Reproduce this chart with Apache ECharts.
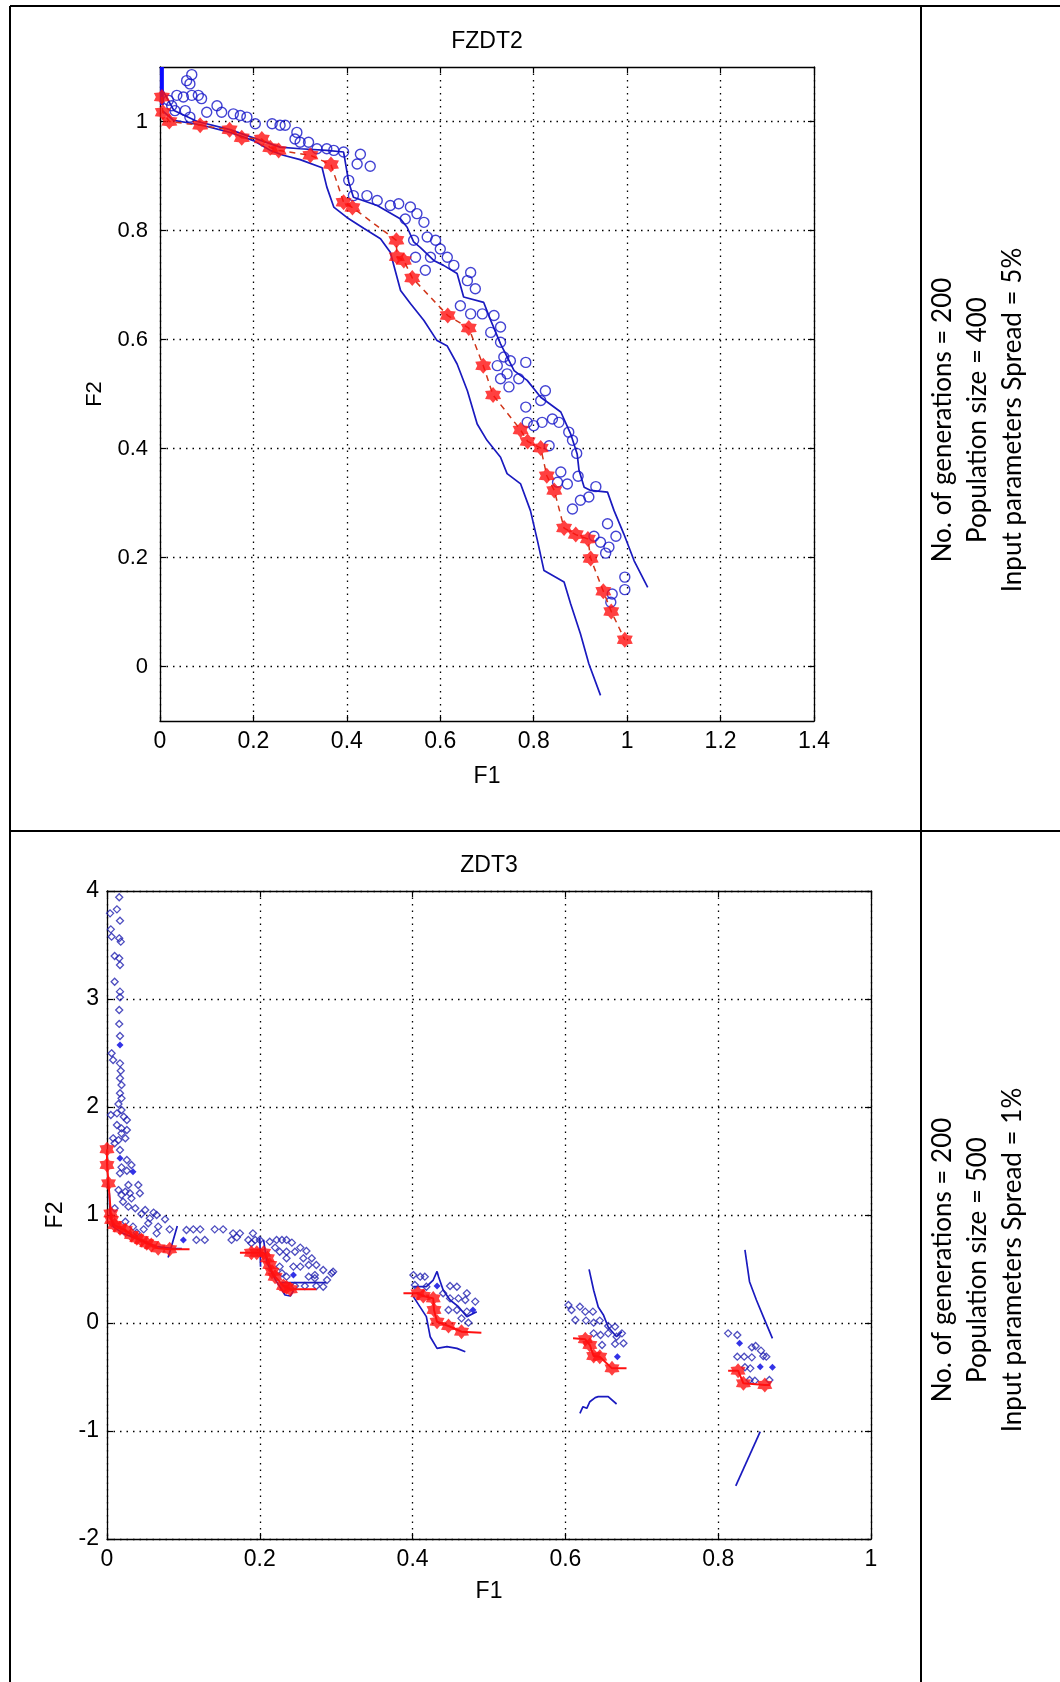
<!DOCTYPE html>
<html><head><meta charset="utf-8">
<script src="https://cdn.jsdelivr.net/npm/echarts@6.0.0/dist/echarts.min.js"></script>
<style>html,body{margin:0;padding:0;background:#fff;}#c{width:1060px;height:1682px;}</style>
</head><body><div id="c"></div>
<script>
// ---------- tick labels ----------
const xTicksTop = [0, 0.2, 0.4, 0.6, 0.8, 1, 1.2, 1.4];
const yTicksTop = [0, 0.2, 0.4, 0.6, 0.8, 1];
const xTicksBot = [0, 0.2, 0.4, 0.6, 0.8, 1];
const yTicksBot = [-2, -1, 0, 1, 2, 3, 4];

// ---------- FZDT2 (top) ----------
const topCircles = [[0.068,1.086],[0.057,1.075],[0.064,1.069],[0.018,1.039],[0.036,1.048],[0.050,1.045],[0.068,1.048],[0.082,1.048],[0.089,1.042],[0.025,1.029],[0.032,1.020],[0.054,1.020],[0.064,1.008],[0.100,1.017],[0.122,1.029],[0.132,1.017],[0.157,1.014],[0.172,1.011],[0.186,1.008],[0.204,0.996],[0.240,0.996],[0.257,0.993],[0.268,0.993],[0.293,0.980],[0.289,0.968],[0.300,0.962],[0.318,0.962],[0.336,0.950],[0.357,0.950],[0.372,0.947],[0.393,0.944],
[0.429,0.940],[0.422,0.922],[0.450,0.918],[0.404,0.892],[0.414,0.864],[0.443,0.864],[0.465,0.855],[0.493,0.846],[0.511,0.849],[0.536,0.843],[0.550,0.831],[0.525,0.821],[0.565,0.815],[0.543,0.782],[0.572,0.788],[0.590,0.782],[0.600,0.766],[0.615,0.751],[0.629,0.736],[0.568,0.727],[0.547,0.751],[0.579,0.751],[0.665,0.723],[0.658,0.708],[0.675,0.693],[0.643,0.662],[0.665,0.647],[0.690,0.647],[0.715,0.644],[0.708,0.613],[0.729,0.623],[0.729,0.595],[0.736,0.568],[0.750,0.561],[0.783,0.558],[0.722,0.552],[0.729,0.528],[0.747,0.513],[0.768,0.528],[0.743,0.537],[0.825,0.506],[0.815,0.488],
[0.783,0.476],[0.786,0.448],[0.800,0.442],[0.818,0.448],[0.840,0.454],[0.854,0.448],[0.875,0.430],[0.883,0.415],[0.892,0.391],[0.833,0.405],[0.858,0.357],[0.851,0.338],[0.872,0.335],[0.895,0.349],[0.918,0.311],[0.933,0.330],[0.900,0.305],[0.883,0.289],[0.958,0.262],[0.976,0.239],[0.929,0.239],[0.943,0.228],[0.961,0.219],[0.954,0.208],[0.995,0.164],[0.995,0.141],[0.968,0.133],[0.965,0.118]];
const topStars = [[0.004,1.045],[0.006,1.017],[0.020,1.000],[0.086,0.993],[0.149,0.985],[0.175,0.970],[0.218,0.968],[0.236,0.952],[0.254,0.947],[0.322,0.938],[0.366,0.921],[0.393,0.852],[0.412,0.842],[0.506,0.782],[0.507,0.752],[0.522,0.745],[0.540,0.713],[0.616,0.644],[0.661,0.621],[0.692,0.552],[0.713,0.498],[0.772,0.434],[0.787,0.413],[0.815,0.401],[0.828,0.350],[0.844,0.323],[0.865,0.254],[0.890,0.242],[0.916,0.234],[0.922,0.198],[0.949,0.138],[0.966,0.101],[0.995,0.049]];
const topLower = [[0.005,1.020],[0.029,1.002],[0.086,0.994],[0.150,0.980],[0.200,0.965],[0.236,0.947],[0.264,0.938],[0.300,0.930],[0.347,0.915],[0.357,0.880],[0.372,0.843],[0.400,0.824],[0.436,0.804],[0.472,0.785],[0.493,0.760],[0.515,0.690],[0.536,0.666],[0.565,0.635],[0.593,0.598],[0.615,0.588],[0.636,0.555],[0.658,0.506],[0.679,0.445],[0.700,0.415],[0.729,0.384],[0.743,0.354],[0.772,0.335],[0.793,0.286],[0.808,0.231],[0.822,0.176],[0.865,0.155],[0.879,0.115],[0.900,0.060],[0.918,0.005],[0.943,-0.053]];
const topUpper = [[0.004,1.060],[0.030,1.020],[0.080,1.000],[0.150,0.985],[0.200,0.970],[0.257,0.953],[0.300,0.950],[0.357,0.947],[0.393,0.944],[0.404,0.889],[0.414,0.861],[0.465,0.846],[0.515,0.821],[0.529,0.806],[0.543,0.779],[0.557,0.769],[0.586,0.745],[0.607,0.736],[0.636,0.721],[0.650,0.678],[0.693,0.668],[0.708,0.635],[0.729,0.592],[0.758,0.543],[0.786,0.525],[0.815,0.494],[0.858,0.467],[0.879,0.427],[0.893,0.390],[0.897,0.360],[0.908,0.329],[0.922,0.323],[0.958,0.320],[0.972,0.286],[0.993,0.243],[1.015,0.194],[1.044,0.145]];
const topVertical = [[0.004,1.10],[0.004,1.03]];

// ---------- ZDT3 (bottom) ----------
const botOpen = [[0.016,3.942],[0.013,3.830],[0.004,3.793],[0.017,3.725],[0.005,3.645],[0.006,3.577],[0.016,3.562],[0.018,3.531],[0.010,3.398],[0.016,3.377],[0.017,3.315],[0.010,3.160],[0.017,3.068],[0.017,3.016],[0.016,2.898],[0.016,2.769],[0.017,2.657],[0.006,2.497],[0.008,2.435],[0.017,2.404],[0.018,2.336],[0.017,2.266],[0.019,2.204],[0.017,2.127],[0.019,2.080],[0.015,2.028],[0.005,1.926],[0.019,1.972],[0.013,1.941],[0.022,1.910],[0.026,1.880],[0.013,1.833],[0.019,1.802],[0.026,1.787],[0.019,1.756],[0.008,1.710],[0.015,1.694],[0.024,1.710],[0.010,1.664],[0.017,1.602],[0.026,1.509],[0.032,1.463],[0.019,1.441],[0.026,1.410],[0.017,1.386],[0.028,1.278],[0.041,1.278],[0.015,1.231],[0.024,1.216],[0.019,1.185],[0.030,1.201],[0.043,1.201],[0.032,1.154],[0.021,1.123],[0.028,1.077],[0.037,1.062],[0.050,1.046],[0.061,1.022],[0.065,1.000],[0.010,1.062],[0.045,1.009],[0.056,0.969],[0.076,0.960],[0.024,0.938],[0.034,0.892],[0.054,0.923],[0.067,0.892],[0.082,0.867],[0.048,0.867],[0.039,0.836],[0.065,0.830],
[0.104,0.861],[0.113,0.867],[0.122,0.867],[0.141,0.867],[0.152,0.867],[0.117,0.769],[0.128,0.769],[0.165,0.830],[0.174,0.830],[0.163,0.769],[0.191,0.830],[0.185,0.769],[0.194,0.769],[0.200,0.769],[0.222,0.769],[0.229,0.769],[0.235,0.769],[0.242,0.744],[0.226,0.660],[0.235,0.660],[0.246,0.660],[0.235,0.599],[0.257,0.599],[0.268,0.599],[0.244,0.522],[0.253,0.522],[0.264,0.537],[0.274,0.537],[0.226,0.522],[0.229,0.460],[0.235,0.429],[0.264,0.429],[0.272,0.444],[0.294,0.460],[0.296,0.475],[0.246,0.343],[0.259,0.343],[0.274,0.343],[0.283,0.336],[0.170,0.793],[0.189,0.738],[0.213,0.753],[0.220,0.698],[0.253,0.698],[0.261,0.667],[0.283,0.491],[0.288,0.398],[0.272,0.414],
[0.401,0.444],[0.410,0.429],[0.416,0.429],[0.403,0.352],[0.418,0.336],[0.449,0.343],[0.458,0.336],[0.440,0.275],[0.449,0.228],[0.460,0.228],[0.471,0.275],[0.469,0.213],[0.482,0.198],[0.447,0.120],[0.458,0.120],[0.471,0.105],[0.464,0.043],[0.473,0.003],
[0.604,0.167],[0.608,0.120],[0.619,0.151],[0.626,0.105],[0.636,0.105],[0.613,0.028],[0.627,0.022],[0.637,0.003],[0.645,0.022],[0.656,-0.028],[0.665,-0.034],[0.637,-0.096],[0.646,-0.111],[0.656,-0.096],[0.674,-0.096],[0.667,-0.127],[0.676,-0.188],[0.665,-0.194],[0.648,-0.204],
[0.813,-0.096],[0.825,-0.111],[0.844,-0.225],[0.849,-0.213],[0.856,-0.256],[0.859,-0.306],[0.863,-0.312],[0.825,-0.312],[0.834,-0.312],[0.844,-0.318],[0.835,-0.410],[0.842,-0.420],[0.841,-0.528],[0.848,-0.534],[0.867,-0.528]];
const botFilled = [[0.017,2.574],[0.017,1.525],[0.034,1.401],[0.100,0.769],[0.244,0.444],[0.432,0.343],[0.479,0.120],[0.668,-0.312],[0.828,-0.188],[0.855,-0.404],[0.871,-0.410]];
const botStars1 = [[0,1.608],[0,1.463],[0.002,1.293],[0.005,1.015],[0.006,0.954],[0.010,0.907],[0.017,0.877],[0.024,0.861],[0.032,0.815],[0.039,0.784],[0.045,0.769],[0.052,0.738],[0.058,0.722],[0.067,0.691],[0.082,0.682]];
const botStars2 = [[0.189,0.651],[0.196,0.651],[0.205,0.651],[0.210,0.599],[0.213,0.537],[0.216,0.475],[0.220,0.429],[0.231,0.343],[0.235,0.330],[0.240,0.312]];
const botStars3 = [[0.407,0.275],[0.414,0.250],[0.427,0.228],[0.428,0.120],[0.432,0.012],[0.447,-0.028],[0.464,-0.080]];
const botStars4 = [[0.626,-0.151],[0.632,-0.204],[0.637,-0.306],[0.645,-0.312],[0.661,-0.420]];
const botStars5 = [[0.826,-0.441],[0.833,-0.559],[0.861,-0.574]];
const botRedStart = [null,[0.174,0.651],[0.388,0.275],[0.610,-0.142],[0.813,-0.441]];
const botRedEnd = [[0.108,0.682],[0.274,0.312],[0.490,-0.090],[0.680,-0.420],[0.868,-0.574]];
const botBlue1a = [[0.003,1.200],[0.004,1.015],[0.008,0.892],[0.021,0.830],[0.043,0.769],[0.065,0.707],[0.085,0.691],[0.098,0.690]];
const botBlue1b = [[0.080,0.607],[0.086,0.750],[0.092,0.898]];
const botBlue2a = [[0.200,0.790],[0.201,0.520]];
const botBlue2b = [[0.205,0.769],[0.209,0.568],[0.216,0.460],[0.222,0.382],[0.229,0.306],[0.233,0.259],[0.240,0.250],[0.244,0.300]];
const botBlue2c = [[0.228,0.373],[0.287,0.373]];
const botBlue3a = [[0.401,0.336],[0.418,0.336],[0.427,0.398],[0.432,0.478],[0.434,0.429],[0.440,0.306],[0.449,0.213],[0.460,0.151],[0.471,0.059],[0.484,0.105]];
const botBlue3b = [[0.401,0.244],[0.418,0.059],[0.423,-0.127],[0.432,-0.235],[0.445,-0.219],[0.458,-0.235],[0.469,-0.266]];
const botBlue4a = [[0.631,0.497],[0.637,0.303],[0.643,0.148],[0.650,0.071],[0.656,-0.037],[0.667,-0.127],[0.674,-0.080]];
const botBlue4b = [[0.619,-0.836],[0.623,-0.775],[0.628,-0.790],[0.632,-0.729],[0.639,-0.691],[0.643,-0.682],[0.656,-0.682],[0.667,-0.750]];
const botBlue5a = [[0.835,0.676],[0.841,0.382],[0.850,0.213],[0.859,0.059],[0.871,-0.142]];
const botBlue5b = [[0.823,-1.509],[0.855,-1.006]];

// ---------- texts ----------
const titleTop = 'FZDT2';
const titleBot = 'ZDT3';
const infoTop = ['No. of generations = 200', 'Population size = 400', 'Input parameters Spread = 5%'];
const infoBot = ['No. of generations = 200', 'Population size = 500', 'Input parameters Spread = 1%'];

// ---------- styling / build ----------
const FONT = '"Liberation Sans", Arial, sans-serif';
const BLUE = '#1a1abf';
const RED = '#ff1010';

function hexPath() {
  let s = '';
  for (let i = 0; i < 12; i++) {
    const a = -Math.PI / 2 + i * Math.PI / 6;
    const r = i % 2 ? 6.5 : 10;
    s += (i ? 'L' : 'M') + (10 + r * Math.cos(a)).toFixed(2) + ' ' + (10 + r * Math.sin(a)).toFixed(2) + ' ';
  }
  return 'path://' + s + 'Z';
}
const HEX = hexPath();

function mkX(grid, pos, min, max, ticks, main, fs, nameGap) {
  return {
    gridIndex: grid, type: 'value', position: pos, min: min, max: max,
    axisLine: { show: true, onZero: false, lineStyle: { color: '#000', width: 1.3 } },
    axisTick: { show: true, inside: true, length: 6, customValues: ticks, lineStyle: { color: '#000', width: 1.2 } },
    axisLabel: { show: main, customValues: ticks, color: '#000', fontSize: fs, fontFamily: FONT, margin: 9 },
    splitLine: { show: main, lineStyle: { color: '#000', width: 1.3, type: [1.5, 5] } },
    name: main ? 'F1' : '', nameLocation: 'middle', nameGap: nameGap,
    nameTextStyle: { color: '#000', fontSize: fs, fontFamily: FONT }
  };
}
function mkY(grid, pos, min, max, ticks, main, fs, nameGap, margin) {
  return {
    gridIndex: grid, type: 'value', position: pos, min: min, max: max,
    axisLine: { show: true, onZero: false, lineStyle: { color: '#000', width: 1.3 } },
    axisTick: { show: true, inside: true, length: 6, customValues: ticks, lineStyle: { color: '#000', width: 1.2 } },
    axisLabel: { show: main, customValues: ticks, color: '#000', fontSize: fs, fontFamily: FONT, margin: margin },
    splitLine: { show: main, lineStyle: { color: '#000', width: 1.3, type: [1.5, 5] } },
    name: main ? 'F2' : '', nameLocation: 'middle', nameGap: nameGap,
    nameTextStyle: { color: '#000', fontSize: fs, fontFamily: FONT }
  };
}

function line(data, xi, color, width, type, z) {
  return { type: 'line', xAxisIndex: xi, yAxisIndex: xi, data: data, symbol: 'none', showSymbol: false,
    lineStyle: { color: color, width: width, type: type || 'solid' }, z: z || 2, silent: true, animation: false };
}
function scatter(data, xi, symbol, size, itemStyle, z) {
  return { type: 'scatter', xAxisIndex: xi, yAxisIndex: xi, data: data, symbol: symbol, symbolSize: size,
    itemStyle: itemStyle, z: z || 3, silent: true, animation: false };
}

const series = [];
// top
series.push(line(topLower, 0, BLUE, 1.7));
series.push(line(topUpper, 0, BLUE, 1.7));
series.push(line(topVertical, 0, '#0a0aff', 4));
series.push(scatter(topCircles, 0, 'circle', 10, { color: 'rgba(0,0,0,0)', borderColor: '#1414c8', borderWidth: 1.4 }, 3));
series.push(line(topStars, 0, '#d0361a', 1.5, [6, 5], 4));
series.push(scatter(topStars, 0, HEX, 16, { color: RED }, 5));
// bottom
[botBlue1a, botBlue1b, botBlue2a, botBlue2b, botBlue2c, botBlue3a, botBlue3b, botBlue4a, botBlue4b, botBlue5a, botBlue5b]
  .forEach(d => series.push(line(d, 1, BLUE, 1.7)));
series.push(scatter(botOpen, 1, 'diamond', 7, { color: 'rgba(255,255,255,0)', borderColor: '#2222b0', borderWidth: 1.3 }, 3));
series.push(scatter(botFilled, 1, 'diamond', 7, { color: '#0000e0' }, 3));
const starSets = [botStars1, botStars2, botStars3, botStars4, botStars5];
starSets.forEach((s, i) => {
  const seg = (botRedStart[i] ? [botRedStart[i]] : []).concat(s, [botRedEnd[i]]);
  series.push(line(seg, 1, RED, 2, 'solid', 4));
  series.push(scatter(s, 1, HEX, 15, { color: RED }, 5));
});

const graphic = [
  { type: 'line', shape: { x1: 10, y1: 6, x2: 1060, y2: 6 }, style: { stroke: '#000', lineWidth: 2 } },
  { type: 'line', shape: { x1: 10, y1: 6, x2: 10, y2: 1682 }, style: { stroke: '#000', lineWidth: 2 } },
  { type: 'line', shape: { x1: 921, y1: 6, x2: 921, y2: 1682 }, style: { stroke: '#000', lineWidth: 2 } },
  { type: 'line', shape: { x1: 10, y1: 831, x2: 1060, y2: 831 }, style: { stroke: '#000', lineWidth: 2 } },
  { type: 'text', x: 487, y: 42, style: { text: titleTop, fill: '#000', font: '23px ' + FONT, textAlign: 'center', textVerticalAlign: 'middle' } },
  { type: 'text', x: 489, y: 866, style: { text: titleBot, fill: '#000', font: '23px ' + FONT, textAlign: 'center', textVerticalAlign: 'middle' } },
  { type: 'text', x: 978, y: 420, rotation: Math.PI / 2, style: { text: infoTop.join('\n'), fill: '#000', font: '26px Lato, "Open Sans", sans-serif', textAlign: 'center', textVerticalAlign: 'middle', lineHeight: 35 } },
  { type: 'text', x: 978, y: 1260, rotation: Math.PI / 2, style: { text: infoBot.join('\n'), fill: '#000', font: '26px Lato, "Open Sans", sans-serif', textAlign: 'center', textVerticalAlign: 'middle', lineHeight: 35 } }
];

const option = {
  animation: false,
  backgroundColor: '#fff',
  grid: [
    { left: 160, top: 67, width: 654, height: 654, show: false },
    { left: 107, top: 891, width: 764, height: 648, show: false }
  ],
  xAxis: [
    mkX(0, 'bottom', 0, 1.4, xTicksTop, true, 23, 44),
    mkX(1, 'bottom', 0, 1, xTicksBot, true, 23, 41),
    mkX(0, 'top', 0, 1.4, xTicksTop, false, 23, 0),
    mkX(1, 'top', 0, 1, xTicksBot, false, 23, 0)
  ],
  yAxis: [
    mkY(0, 'left', -0.1, 1.1, yTicksTop, true, 22, 54, 12),
    mkY(1, 'left', -2, 4, yTicksBot, true, 23, 34, 8),
    mkY(0, 'right', -0.1, 1.1, yTicksTop, false, 22, 0, 0),
    mkY(1, 'right', -2, 4, yTicksBot, false, 23, 0, 0)
  ],
  series: series,
  graphic: graphic
};
const chart = echarts.init(document.getElementById('c'));
chart.setOption(option);
</script></body></html>
